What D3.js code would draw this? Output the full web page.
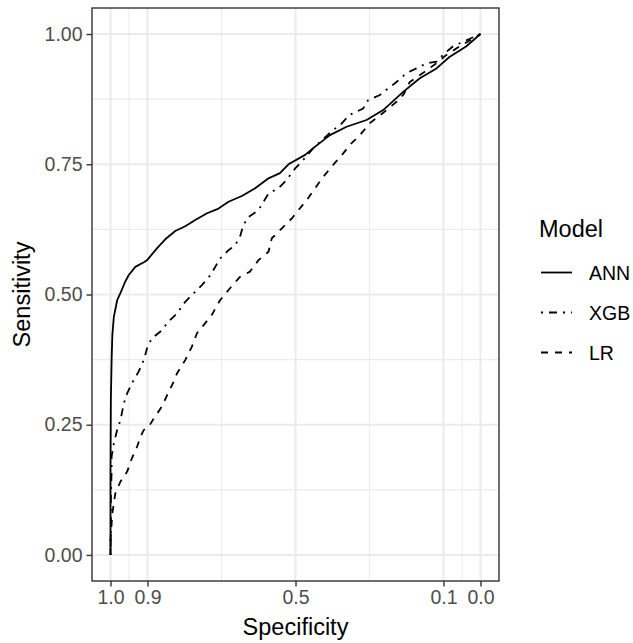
<!DOCTYPE html>
<html>
<head>
<meta charset="utf-8">
<script src="https://cdn.jsdelivr.net/npm/d3@7"></script>
<style>
  body { margin: 0; background: #fff; }
  text { font-family: "Liberation Sans", Arial, sans-serif; }
</style>
</head>
<body>
<div id="chart"></div>
<script>
// ROC curves, specificity / sensitivity pairs
const annSpec = [1.000, 1.000, 0.999, 0.997, 0.995, 0.991, 0.982, 0.973, 0.960, 0.951, 0.933, 0.910, 0.901, 0.874, 0.852, 0.825, 0.798, 0.771, 0.739, 0.708, 0.681, 0.645, 0.609, 0.573, 0.542, 0.519, 0.474, 0.452, 0.407, 0.362, 0.308, 0.263, 0.209, 0.164, 0.119, 0.084, 0.039, 0.000];
const annSens = [0.000, 0.163, 0.298, 0.374, 0.422, 0.457, 0.489, 0.503, 0.525, 0.537, 0.553, 0.562, 0.566, 0.589, 0.606, 0.622, 0.631, 0.643, 0.656, 0.665, 0.678, 0.689, 0.704, 0.723, 0.733, 0.750, 0.768, 0.781, 0.806, 0.822, 0.835, 0.854, 0.889, 0.915, 0.934, 0.956, 0.976, 1.000];

const xgbSpec = [1.000, 0.999, 0.999, 0.997, 0.997, 0.991, 0.982, 0.973, 0.964, 0.955, 0.942, 0.924, 0.910, 0.900, 0.888, 0.865, 0.843, 0.820, 0.798, 0.780, 0.753, 0.730, 0.704, 0.681, 0.663, 0.650, 0.641, 0.627, 0.600, 0.573, 0.546, 0.524, 0.501, 0.483, 0.452, 0.398, 0.380, 0.353, 0.317, 0.304, 0.272, 0.227, 0.200, 0.173, 0.146, 0.119, 0.097, 0.075, 0.048, 0.000];
const xgbSens = [0.000, 0.048, 0.106, 0.163, 0.189, 0.214, 0.240, 0.259, 0.291, 0.310, 0.330, 0.352, 0.374, 0.400, 0.416, 0.429, 0.448, 0.464, 0.486, 0.499, 0.518, 0.537, 0.569, 0.585, 0.595, 0.611, 0.633, 0.649, 0.662, 0.694, 0.704, 0.720, 0.742, 0.755, 0.781, 0.816, 0.825, 0.845, 0.857, 0.873, 0.883, 0.908, 0.925, 0.934, 0.944, 0.947, 0.963, 0.976, 0.985, 1.000];

const lrSpec = [1.000, 1.000, 0.995, 0.987, 0.973, 0.955, 0.942, 0.928, 0.919, 0.910, 0.897, 0.883, 0.861, 0.847, 0.829, 0.820, 0.798, 0.780, 0.766, 0.744, 0.726, 0.704, 0.677, 0.650, 0.623, 0.600, 0.573, 0.564, 0.537, 0.510, 0.492, 0.470, 0.425, 0.398, 0.371, 0.349, 0.326, 0.299, 0.277, 0.254, 0.227, 0.209, 0.191, 0.156, 0.119, 0.092, 0.057, 0.000];
const lrSens = [0.000, 0.029, 0.080, 0.118, 0.141, 0.160, 0.186, 0.208, 0.227, 0.240, 0.246, 0.262, 0.285, 0.307, 0.333, 0.349, 0.374, 0.400, 0.426, 0.445, 0.461, 0.489, 0.512, 0.534, 0.544, 0.566, 0.582, 0.608, 0.627, 0.646, 0.662, 0.681, 0.726, 0.749, 0.771, 0.790, 0.806, 0.829, 0.841, 0.854, 0.870, 0.883, 0.908, 0.925, 0.944, 0.960, 0.976, 1.000];

const models = ["ANN", "XGB", "LR"];
const xBreaks = [1.0, 0.9, 0.5, 0.1, 0.0];
const xMinor = [0.95, 0.7, 0.3, 0.05];
const yBreaks = [0, 0.25, 0.5, 0.75, 1];
const yMinor = [0.125, 0.375, 0.625, 0.875];

const W = 633, H = 643;
const panel = {left: 92, right: 499, top: 8, bottom: 581};

const dashes = {ANN: null, XGB: "2,6,8,6", LR: "7,7"};
const series = [
  {name: "ANN", pts: annSpec.map((s, i) => [s, annSens[i]])},
  {name: "XGB", pts: xgbSpec.map((s, i) => [s, xgbSens[i]])},
  {name: "LR", pts: lrSpec.map((s, i) => [s, lrSens[i]])}
];

const svg = d3.select("#chart").append("svg")
  .attr("width", W).attr("height", H);

const x = d3.scaleLinear().domain([1.05, -0.05]).range([panel.left, panel.right]);
const y = d3.scaleLinear().domain([-0.05, 1.05]).range([panel.bottom, panel.top]);

// minor grid
svg.append("g").selectAll("line").data(xMinor).join("line")
  .attr("x1", d => x(d)).attr("x2", d => x(d))
  .attr("y1", panel.top).attr("y2", panel.bottom)
  .attr("stroke", "#EBEBEB").attr("stroke-width", 1.1);
svg.append("g").selectAll("line").data(yMinor).join("line")
  .attr("y1", d => y(d)).attr("y2", d => y(d))
  .attr("x1", panel.left).attr("x2", panel.right)
  .attr("stroke", "#EBEBEB").attr("stroke-width", 1.1);
// major grid
svg.append("g").selectAll("line").data(xBreaks).join("line")
  .attr("x1", d => x(d)).attr("x2", d => x(d))
  .attr("y1", panel.top).attr("y2", panel.bottom)
  .attr("stroke", "#EBEBEB").attr("stroke-width", 2.1);
svg.append("g").selectAll("line").data(yBreaks).join("line")
  .attr("y1", d => y(d)).attr("y2", d => y(d))
  .attr("x1", panel.left).attr("x2", panel.right)
  .attr("stroke", "#EBEBEB").attr("stroke-width", 2.1);

// curves
const line = d3.line()
  .x(d => x(d[0]))
  .y(d => y(d[1]));

svg.append("g").selectAll("path").data(series).join("path")
  .attr("d", d => line(d.pts))
  .attr("fill", "none")
  .attr("stroke", "black")
  .attr("stroke-width", 1.8)
  .attr("stroke-linejoin", "round")
  .attr("stroke-dasharray", d => dashes[d.name]);

// panel border
svg.append("rect")
  .attr("x", panel.left).attr("y", panel.top)
  .attr("width", panel.right - panel.left).attr("height", panel.bottom - panel.top)
  .attr("fill", "none").attr("stroke", "#333333").attr("stroke-width", 1.4);

// axes
const xAxis = d3.axisBottom(x).tickValues(xBreaks).tickFormat(d3.format(".1f"))
  .tickSize(5.5).tickPadding(4);
const gx = svg.append("g").attr("transform", `translate(0,${panel.bottom})`).call(xAxis);

const yAxis = d3.axisLeft(y).tickValues(yBreaks).tickFormat(d3.format(".2f"))
  .tickSize(5.5).tickPadding(4);
const gy = svg.append("g").attr("transform", `translate(${panel.left},0)`).call(yAxis);

[gx, gy].forEach(g => {
  g.select(".domain").remove();
  g.selectAll(".tick line").attr("stroke", "#333333").attr("stroke-width", 1.4);
  g.selectAll(".tick text")
    .attr("fill", "#4D4D4D")
    .style("font-size", "19.5px")
    .style("font-family", "'Liberation Sans', Arial, sans-serif");
});

// axis titles
svg.append("text")
  .attr("x", (panel.left + panel.right) / 2).attr("y", 635)
  .attr("text-anchor", "middle")
  .style("font-size", "23.5px")
  .text("Specificity");

svg.append("text")
  .attr("transform", `translate(30,${(panel.top + panel.bottom) / 2}) rotate(-90)`)
  .attr("text-anchor", "middle")
  .style("font-size", "23.5px")
  .text("Sensitivity");

// legend
const legend = svg.append("g").attr("transform", "translate(539,0)");
legend.append("text")
  .attr("x", 0).attr("y", 237)
  .style("font-size", "23.5px")
  .text("Model");

const keys = legend.selectAll(".key").data(models).join("g")
  .attr("class", "key")
  .attr("transform", (d, i) => `translate(0,${272.5 + i * 40})`);
keys.append("line")
  .attr("x1", 2).attr("x2", 33)
  .attr("y1", 0).attr("y2", 0)
  .attr("stroke", "black").attr("stroke-width", 1.8)
  .attr("stroke-dasharray", d => dashes[d]);
keys.append("text")
  .attr("x", 50).attr("y", 7)
  .style("font-size", "19.5px")
  .text(d => d);
</script>
</body>
</html>
